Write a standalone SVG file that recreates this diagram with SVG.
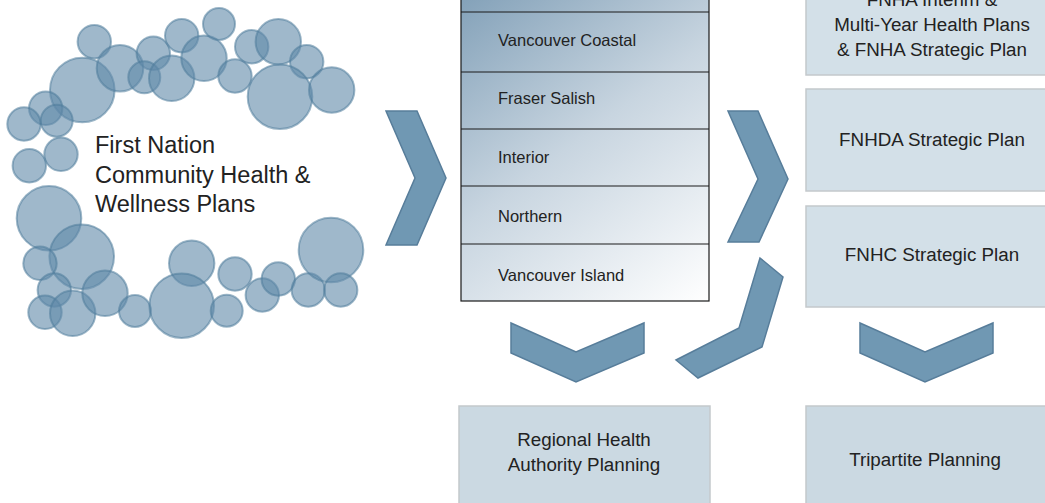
<svg xmlns="http://www.w3.org/2000/svg" width="1045" height="503" viewBox="0 0 1045 503">
<style>
.bub{fill:#5f89a8;fill-opacity:0.6;stroke:#4f7b9b;stroke-opacity:0.55;stroke-width:2}
.chev{fill:#7098b3;stroke:#577d9a;stroke-width:1.5}
.reg{fill:none;stroke:#1a1a1a;stroke-width:1.2}
.box{fill:#d3e0e8;stroke:#c4c9cc;stroke-width:1.5}
.box2{fill:#cbd9e2;stroke:#c4c9cc;stroke-width:1.5}
.t{font-family:"Liberation Sans",Arial,sans-serif;fill:#222222}
.rt{font-size:16.5px}
.bt{font-size:18.8px;text-anchor:middle}
</style>
<defs>
<linearGradient id="rg" gradientUnits="userSpaceOnUse" x1="461" y1="-30" x2="709" y2="301">
<stop offset="0" stop-color="#7b9bb4"/>
<stop offset="0.5" stop-color="#c8d5e0"/>
<stop offset="1" stop-color="#ffffff"/>
</linearGradient>
</defs>
<g id="bubbles">
<circle class="bub" cx="94.3" cy="41.7" r="16.7"/>
<circle class="bub" cx="82.3" cy="90" r="32.3"/>
<circle class="bub" cx="120" cy="68.3" r="23.3"/>
<circle class="bub" cx="153.3" cy="53.3" r="16.7"/>
<circle class="bub" cx="144.3" cy="77.3" r="16"/>
<circle class="bub" cx="171.7" cy="78.3" r="22.7"/>
<circle class="bub" cx="181.7" cy="35.7" r="16.7"/>
<circle class="bub" cx="204" cy="58.3" r="22.7"/>
<circle class="bub" cx="219" cy="24" r="16"/>
<circle class="bub" cx="235" cy="76" r="16.7"/>
<circle class="bub" cx="251.7" cy="46.7" r="16.7"/>
<circle class="bub" cx="278.3" cy="41.7" r="22.7"/>
<circle class="bub" cx="306.7" cy="61.7" r="16.7"/>
<circle class="bub" cx="280" cy="96.7" r="32.3"/>
<circle class="bub" cx="331.7" cy="90" r="22.7"/>
<circle class="bub" cx="45.7" cy="108.3" r="16.7"/>
<circle class="bub" cx="24" cy="124" r="16.7"/>
<circle class="bub" cx="56.7" cy="120.7" r="16"/>
<circle class="bub" cx="61" cy="154.3" r="16.7"/>
<circle class="bub" cx="29.3" cy="165.7" r="16.7"/>
<circle class="bub" cx="49" cy="218.3" r="32.3"/>
<circle class="bub" cx="81.7" cy="256.7" r="32.3"/>
<circle class="bub" cx="40" cy="263.3" r="16.7"/>
<circle class="bub" cx="54.3" cy="290" r="16.7"/>
<circle class="bub" cx="45" cy="312.3" r="16.7"/>
<circle class="bub" cx="72.7" cy="313.3" r="22.7"/>
<circle class="bub" cx="105" cy="293.3" r="22.7"/>
<circle class="bub" cx="135" cy="311" r="16"/>
<circle class="bub" cx="191.7" cy="263.3" r="22.7"/>
<circle class="bub" cx="181.7" cy="305.7" r="32.3"/>
<circle class="bub" cx="226.7" cy="310.7" r="16"/>
<circle class="bub" cx="235" cy="274" r="16.7"/>
<circle class="bub" cx="262.3" cy="295" r="16.7"/>
<circle class="bub" cx="278.3" cy="279" r="16.7"/>
<circle class="bub" cx="308.3" cy="290" r="16.7"/>
<circle class="bub" cx="331" cy="250" r="32.3"/>
<circle class="bub" cx="340.7" cy="290" r="16.7"/>
</g>
<g id="community-plans">
<text class="t" font-size="23.5" x="95" y="153">First Nation</text>
<text class="t" font-size="23.5" x="95" y="183">Community Health &amp;</text>
<text class="t" font-size="23.5" x="95" y="212">Wellness Plans</text>
</g>
<g id="regions">
<rect x="461" y="-60" width="248" height="361" fill="url(#rg)"/>
<rect class="reg" x="461" y="-60" width="248" height="361"/>
<line class="reg" x1="461" y1="12" x2="709" y2="12"/>
<line class="reg" x1="461" y1="72" x2="709" y2="72"/>
<line class="reg" x1="461" y1="129" x2="709" y2="129"/>
<line class="reg" x1="461" y1="186" x2="709" y2="186"/>
<line class="reg" x1="461" y1="244" x2="709" y2="244"/>
<text class="t rt" x="498" y="46">Vancouver Coastal</text>
<text class="t rt" x="498" y="104">Fraser Salish</text>
<text class="t rt" x="498" y="163">Interior</text>
<text class="t rt" x="498" y="222">Northern</text>
<text class="t rt" x="498" y="281">Vancouver Island</text>
</g>
<g id="fnha-plans">
<rect class="box" x="806" y="-30" width="260" height="105"/>
<text class="t bt" x="932" y="6">FNHA Interim &amp;</text>
<text class="t bt" x="932" y="31">Multi-Year Health Plans</text>
<text class="t bt" x="932" y="56">&amp; FNHA Strategic Plan</text>
</g>
<g id="fnhda-plan">
<rect class="box" x="806" y="89" width="260" height="102"/>
<text class="t bt" x="932" y="146">FNHDA Strategic Plan</text>
</g>
<g id="fnhc-plan">
<rect class="box" x="806" y="206" width="260" height="101"/>
<text class="t bt" x="932" y="261">FNHC Strategic Plan</text>
</g>
<g id="rha-planning">
<rect class="box2" x="459" y="406" width="251" height="110"/>
<text class="t bt" x="584" y="446">Regional Health</text>
<text class="t bt" x="584" y="471">Authority Planning</text>
</g>
<g id="tripartite">
<rect class="box2" x="806" y="406" width="260" height="110"/>
<text class="t bt" x="925" y="466">Tripartite Planning</text>
</g>
<g id="connectors">
<polygon class="chev" points="386,111 417,111 446,178 417,245 386,245 415,178"/>
<polygon class="chev" points="728,111 758,111 788,179 759,242 728,242 758,179"/>
<polygon class="chev" points="760,258 783,277 762,347 698,378 676,360 739,328"/>
<polygon class="chev" points="511,323 576,352 644,323 644,353 576,382 511,353"/>
<polygon class="chev" points="860,323 925,352 993,323 993,353 925,382 860,353"/>
</g>
</svg>
